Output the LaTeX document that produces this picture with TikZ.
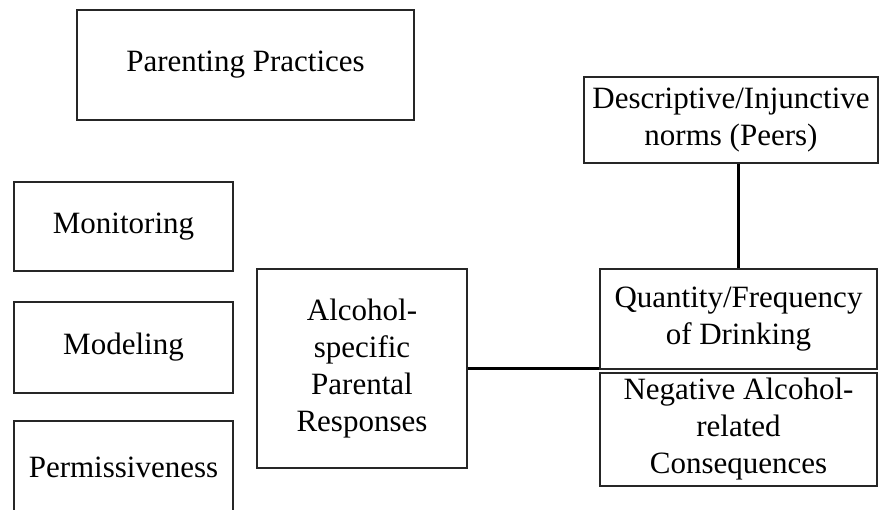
\documentclass[tikz,border=0pt]{standalone}
\usepackage{fontspec}
\setmainfont{Liberation Serif}
\begin{document}
\begin{tikzpicture}[x=1pt,y=-1pt,
  box/.style={draw=black!85, line width=1.3pt, inner sep=0pt, align=center,
    font=\fontsize{31}{37}\selectfont, fill=white},
  link/.style={draw=black, line width=2.6pt}]
\useasboundingbox (0,0) rectangle (884,510);
\clip (0,0) rectangle (884,510);
\node[box, minimum width=337pt, minimum height=110pt] (pp) at (245.5,65) {Parenting Practices};
\node[box, minimum width=294pt, minimum height=86pt] (dn) at (731,120) {Descriptive/Injunctive\\norms (Peers)};
\node[box, minimum width=219pt, minimum height=89pt] (mon) at (123.5,226.5) {Monitoring};
\node[box, minimum width=219pt, minimum height=91pt] (mod) at (123.5,347.5) {Modeling};
\node[box, minimum width=219pt, minimum height=92pt] (per) at (123.5,467) {Permissiveness};
\node[box, minimum width=210pt, minimum height=199pt] (asp) at (362,368.5) {Alcohol-\\specific\\Parental\\Responses};
\node[box, minimum width=277pt, minimum height=100pt] (qf) at (738.5,319) {Quantity/Frequency\\of Drinking};
\node[box, minimum width=277pt, minimum height=113pt] (neg) at (738.5,429.5) {Negative Alcohol-\\related\\Consequences};
\draw[link] (qf.north) -- (qf.north |- dn.south);
\draw[link] (asp.east) -- (asp.east -| qf.west);
\end{tikzpicture}
\end{document}
